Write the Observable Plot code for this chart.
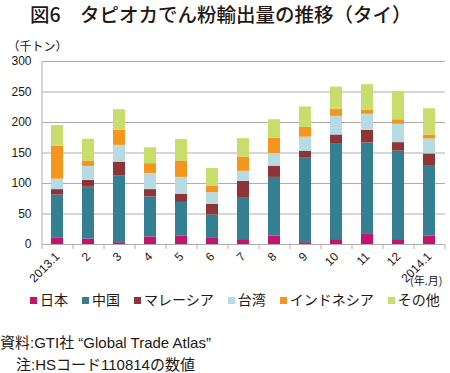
<!DOCTYPE html>
<html><head><meta charset="utf-8">
<script src="https://cdn.jsdelivr.net/npm/d3@7"></script>
<script src="https://cdn.jsdelivr.net/npm/@observablehq/plot@0.6"></script>
<style>
body{margin:0;background:#fff;width:450px;font-family:"Liberation Sans","Noto Sans CJK JP",sans-serif;color:#231815;}
#title{height:28px;line-height:28px;font-size:19.5px;font-weight:500;font-family:"Noto Sans CJK JP",sans-serif;padding-left:30px;white-space:nowrap;}
#legend{height:20px;line-height:20px;display:flex;gap:14px;padding-left:30px;font-size:14px;white-space:nowrap;}
#legend .sw{display:inline-block;width:7px;height:7px;margin-right:3px;vertical-align:1px;}
#source{margin-top:23px;font-size:15px;line-height:20px;white-space:nowrap;}
#source div+div{padding-left:16px;margin-top:2px;}
</style></head><body>
<div id="title">図6　タピオカでん粉輸出量の推移（タイ）</div>
<div id="chart"></div>
<div id="legend"></div>
<div id="source"><div>資料:GTI社 “Global Trade Atlas”</div><div>注:HSコード110814の数値</div></div>
<script>
const months = ["2013.1","2","3","4","5","6","7","8","9","10","11","12","2014.1"];
const seriesNames = ["日本","中国","マレーシア","台湾","インドネシア","その他"];
const seriesColors = ["#c3156b","#357f93","#8f3437","#b6dbe3","#f4961e","#c8de6c"];
const japan     = [11, 9, 3, 12.5, 13.5, 10, 8, 14, 3, 8, 16.5, 8, 13.5];
const china     = [70, 85, 109, 65.5, 55.5, 38.5, 69, 96, 139.5, 157.5, 150, 145, 116];
const malaysia  = [9, 11, 23, 12, 13, 17.5, 26.5, 18.5, 10, 14, 20.5, 14, 19];
const taiwan    = [17, 23, 27.5, 26.5, 28, 19, 16.5, 20.5, 23.5, 30.5, 26.5, 30, 24.5];
const indonesia = [54, 9, 25, 16, 27, 11, 23.5, 25.5, 16, 12, 7, 7.5, 6.5];
const others    = [34, 35.5, 33.5, 26, 35, 28.5, 30, 30, 33.5, 36, 41.5, 46.5, 43];
const yTicks = [0, 50, 100, 150, 200, 250, 300];
const unitLabel = "（千トン）";
const xUnitLabel = "(年.月)";

const seriesValues = [japan, china, malaysia, taiwan, indonesia, others];
const data = months.flatMap((m, i) => seriesNames.map((s, j) => ({month: m, series: s, value: seriesValues[j][i]})));

const W = 450, H = 262, ML = 42, MR = 5;
const step = (W - ML - MR) / months.length;
const gray = "#adadad";

const chart = Plot.plot({
  width: W, height: H,
  marginLeft: ML, marginRight: MR, marginTop: 33, marginBottom: 46,
  style: {fontFamily: "'Liberation Sans','Noto Sans CJK JP',sans-serif", color: "#231815", background: "#fff"},
  x: {type: "band", domain: months, paddingInner: 0.6, paddingOuter: 0.3, label: null},
  y: {domain: [0, 300], label: null},
  color: {domain: seriesNames, range: seriesColors},
  marks: [
    Plot.gridY(yTicks, {stroke: gray, strokeOpacity: 1, strokeWidth: 1}),
    Plot.ruleX([months[0]], {x: d => d, dx: -step / 2, y1: 0, y2: 300, stroke: gray}),
    Plot.ruleX(months, {x: d => d, dx: -step / 2, y1: 0, y2: 0, insetBottom: -5, stroke: gray}),
    Plot.ruleX([months[months.length - 1]], {x: d => d, dx: step / 2, y1: 0, y2: 0, insetBottom: -5, stroke: gray}),
    Plot.barY(data, {x: "month", y: "value", fill: "series"}),
    Plot.axisY(yTicks, {tickSize: 0, tickPadding: 11, fontSize: 12, label: null}),
    Plot.axisX({tickSize: 0, tickRotate: -45, tickPadding: 10, fontSize: 12, label: null}),
    Plot.text([unitLabel], {frameAnchor: "top-left", textAnchor: "start", dx: -35, dy: -19, fontSize: 12, fontFamily: "Noto Sans CJK JP"}),
    Plot.text([xUnitLabel], {frameAnchor: "bottom-right", textAnchor: "end", dx: -3, dy: 40, fontSize: 11, fontFamily: "Noto Sans CJK JP"})
  ]
});
document.getElementById("chart").appendChild(chart);

const legend = document.getElementById("legend");
seriesNames.forEach((s, j) => {
  const item = document.createElement("span");
  const sw = document.createElement("span");
  sw.className = "sw";
  sw.style.background = seriesColors[j];
  item.appendChild(sw);
  item.appendChild(document.createTextNode(s));
  legend.appendChild(item);
});
</script>
</body></html>
